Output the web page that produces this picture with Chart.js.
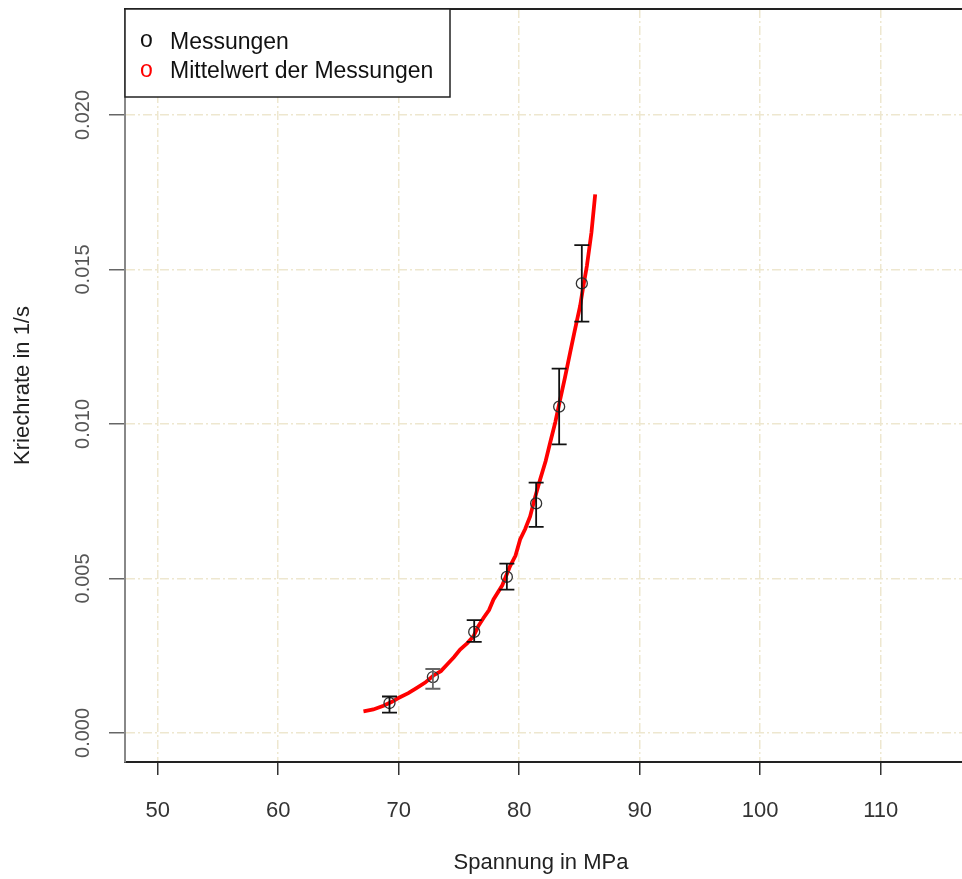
<!DOCTYPE html>
<html>
<head>
<meta charset="utf-8">
<script src="https://cdn.jsdelivr.net/npm/chart.js@4.4.1/dist/chart.umd.min.js"></script>
<style>
  html, body { margin: 0; padding: 0; background: #ffffff; }
  #wrap { width: 962px; height: 879px; }
</style>
</head>
<body>
<div id="wrap"><canvas id="c" width="962" height="879"></canvas></div>
<script>
// Creep rate measurements (stress in MPa, creep rate in 1/s)
const stressMeas = [69.24, 72.84, 76.27, 78.98, 81.41, 83.32, 85.20];
const rateMeas   = [0.00097, 0.00181, 0.00327, 0.00505, 0.00743, 0.01056, 0.01455];
const rateHigh   = [0.00118, 0.00207, 0.00365, 0.00548, 0.00810, 0.01179, 0.01579];
const rateLow    = [0.00066, 0.00143, 0.00295, 0.00464, 0.00667, 0.00934, 0.01331];

// Mean curve of the measurements
const stressMean = [67.08, 67.9, 68.74, 69.4, 69.98, 70.8, 71.51, 72.2, 72.89, 73.5, 74.00, 74.6, 75.10, 75.7,
                    76.21, 76.6, 77.04, 77.5, 77.87, 78.6, 79.25, 79.7, 80.08, 80.5, 80.91, 81.3, 81.74, 82.2,
                    82.57, 83.0, 83.40, 83.8, 84.23, 84.6, 85.06, 85.3, 85.62, 86.0, 86.31];
const rateMean   = [0.00070, 0.00076, 0.00088, 0.00100, 0.00113, 0.00129, 0.00146, 0.00163, 0.00186, 0.00200, 0.00221, 0.00246, 0.00270, 0.00291,
                    0.00313, 0.00345, 0.00372, 0.00398, 0.00432, 0.00478, 0.00540, 0.00574, 0.00626, 0.00660, 0.00701, 0.00760, 0.00820, 0.00880,
                    0.00939, 0.01006, 0.01079, 0.01150, 0.01231, 0.01300, 0.01382, 0.01440, 0.01511, 0.01620, 0.01743];

// Axis ticks
const xTicks = [50, 60, 70, 80, 90, 100, 110];
const xTickLabels = ['50', '60', '70', '80', '90', '100', '110'];
const yTicks = [0.000, 0.005, 0.010, 0.015, 0.020];
const yTickLabels = ['0.000', '0.005', '0.010', '0.015', '0.020'];

const legendLabels = ['Messungen', 'Mittelwert der Messungen'];
const xTitle = 'Spannung in MPa';
const yTitle = 'Kriechrate in 1/s';

const FONT = '"Liberation Sans", Arial, sans-serif';
const gridColor = '#EEE7CF';
const gridDash = [9, 3, 2, 3];

const decorPlugin = {
  id: 'decor',
  afterDatasetsDraw(chart) {
    const ctx = chart.ctx;
    const xs = chart.scales.x, ys = chart.scales.y;
    // error bars
    ctx.save();
    ctx.lineWidth = 1.8;
    for (let i = 0; i < stressMeas.length; i++) {
      const px = xs.getPixelForValue(stressMeas[i]);
      const top = ys.getPixelForValue(rateHigh[i]);
      const bot = ys.getPixelForValue(rateLow[i]);
      ctx.strokeStyle = i === 1 ? '#666666' : '#111111';
      ctx.beginPath();
      ctx.moveTo(px, top); ctx.lineTo(px, bot);
      ctx.moveTo(px - 7.5, top); ctx.lineTo(px + 7.5, top);
      ctx.moveTo(px - 7.5, bot); ctx.lineTo(px + 7.5, bot);
      ctx.stroke();
    }
    ctx.restore();
  },
  afterDraw(chart) {
    const ctx = chart.ctx;
    const area = chart.chartArea;
    const xs = chart.scales.x, ys = chart.scales.y;
    ctx.save();
    // top frame line
    ctx.strokeStyle = '#222222';
    ctx.lineWidth = 2;
    ctx.beginPath();
    ctx.moveTo(area.left - 1, area.top);
    ctx.lineTo(chart.width, area.top);
    ctx.stroke();

    // x tick labels
    ctx.fillStyle = '#333333';
    ctx.font = '22px ' + FONT;
    ctx.textAlign = 'center';
    ctx.textBaseline = 'middle';
    xTicks.forEach((v, i) => {
      ctx.fillText(xTickLabels[i], xs.getPixelForValue(v), 811);
    });

    // rotated y tick labels
    ctx.fillStyle = '#555555';
    ctx.font = '20px ' + FONT;
    yTicks.forEach((v, i) => {
      const py = ys.getPixelForValue(v);
      ctx.save();
      ctx.translate(83, py);
      ctx.rotate(-Math.PI / 2);
      ctx.fillText(yTickLabels[i], 0, 0);
      ctx.restore();
    });

    // axis titles
    ctx.fillStyle = '#222222';
    ctx.font = '22px ' + FONT;
    ctx.save();
    ctx.translate(23, (area.top + area.bottom) / 2);
    ctx.rotate(-Math.PI / 2);
    ctx.fillText(yTitle, 0, 0);
    ctx.restore();
    ctx.fillText(xTitle, 541, 863);

    // legend box
    const lx = area.left, ly = area.top, lw = 325, lh = 88;
    ctx.fillStyle = '#ffffff';
    ctx.fillRect(lx, ly, lw, lh);
    ctx.strokeStyle = '#222222';
    ctx.lineWidth = 1.5;
    ctx.strokeRect(lx, ly, lw, lh);
    ctx.font = '23px ' + FONT;
    ctx.textAlign = 'left';
    ctx.textBaseline = 'alphabetic';
    ctx.fillStyle = '#111111';
    ctx.fillText('o', 140, 47);
    ctx.fillStyle = '#ff0000';
    ctx.fillText('o', 140, 77);
    ctx.fillStyle = '#111111';
    ctx.fillText(legendLabels[0], 170, 49);
    ctx.fillText(legendLabels[1], 170, 78);
    ctx.restore();
  }
};

new Chart(document.getElementById('c'), {
  type: 'scatter',
  data: {
    datasets: [
      {
        label: legendLabels[1],
        data: stressMean.map((x, i) => ({ x: x, y: rateMean[i] })),
        showLine: true,
        borderColor: '#ff0000',
        borderWidth: 3.8,
        pointRadius: 0,
        tension: 0,
        order: 2
      },
      {
        label: legendLabels[0],
        data: stressMeas.map((x, i) => ({ x: x, y: rateMeas[i] })),
        showLine: false,
        pointStyle: 'circle',
        pointRadius: 5.5,
        pointBorderWidth: 1.3,
        pointBorderColor: '#333333',
        pointBackgroundColor: 'rgba(0,0,0,0)',
        order: 1
      }
    ]
  },
  options: {
    responsive: false,
    animation: false,
    layout: { autoPadding: false, padding: { top: 9, right: 0, left: 0, bottom: 0 } },
    plugins: { legend: { display: false }, tooltip: { enabled: false } },
    scales: {
      x: {
        type: 'linear',
        min: 47.29,
        max: 116.75,
        afterBuildTicks: (s) => { s.ticks = xTicks.map(v => ({ value: v })); },
        afterFit: (s) => { s.height = 117; },
        border: { display: true, color: '#222222', width: 2, dash: gridDash },
        grid: {
          color: gridColor, lineWidth: 1.5,
          drawTicks: true, tickLength: 13, tickColor: '#333333', tickWidth: 1.5, tickBorderDash: []
        },
        ticks: { display: false }
      },
      y: {
        type: 'linear',
        min: -0.00094,
        max: 0.02343,
        afterBuildTicks: (s) => { s.ticks = yTicks.map(v => ({ value: v })); },
        afterFit: (s) => { s.width = 125; },
        border: { display: true, color: '#888888', width: 2, dash: gridDash },
        grid: {
          color: gridColor, lineWidth: 1.5,
          drawTicks: true, tickLength: 16, tickColor: '#666666', tickWidth: 1.5, tickBorderDash: []
        },
        ticks: { display: false }
      }
    }
  },
  plugins: [decorPlugin]
});
</script>
</body>
</html>
